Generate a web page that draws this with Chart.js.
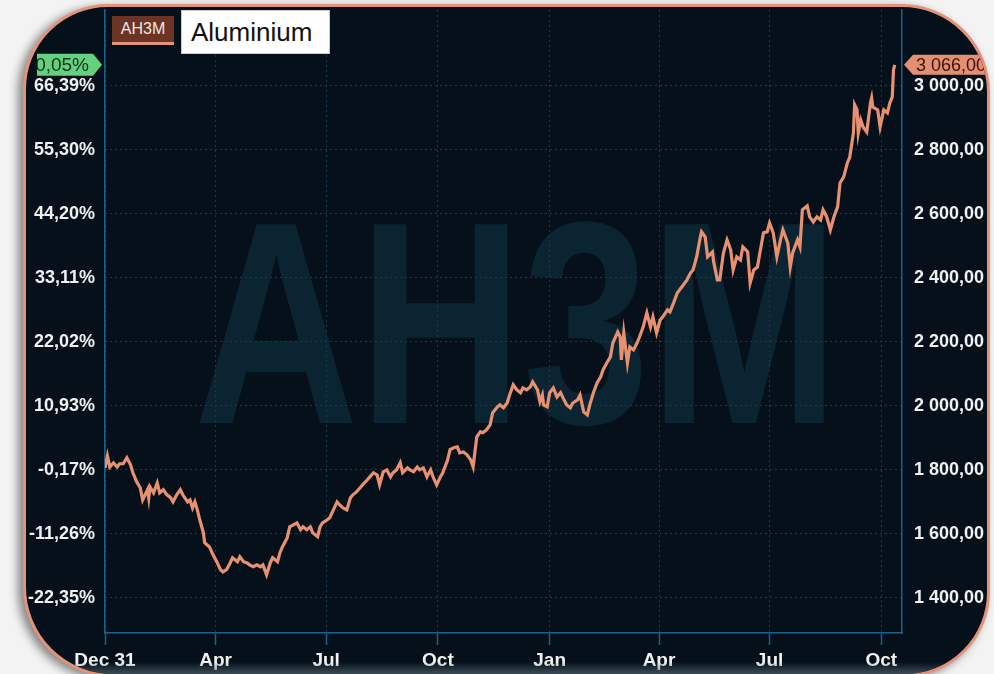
<!DOCTYPE html>
<html>
<head>
<meta charset="utf-8">
<title>Aluminium AH3M</title>
<script src="https://cdn.jsdelivr.net/npm/chart.js"></script>
<style>
  html, body { margin: 0; padding: 0; width: 994px; height: 674px; overflow: hidden; background: #f3f3f3; }
  .frame {
    position: absolute; left: 23px; top: 4px; width: 967px; height: 673px; box-sizing: border-box;
    border: 3px solid #e3937a; border-radius: 85px 88px 85px 90px; overflow: hidden;
    background: #05101a; box-shadow: -5px 3px 10px rgba(0,0,0,0.45);
  }
  .frame canvas { position: absolute; left: -26px; top: -7px; }
  .shine { position: absolute; left: 0; right: 0; bottom: 0; height: 12px;
    background: linear-gradient(to bottom, rgba(40,60,72,0), rgba(80,98,108,0.75)); }
  .code { position: absolute; left: 112px; top: 16px; width: 62px; height: 29px; box-sizing: border-box;
    background: #6b3424; border-bottom: 3px solid #e3937a; color: #f4e6e0; text-align: center;
    font: 16px "Liberation Sans", Arial, sans-serif; line-height: 26px; }
  .name { position: absolute; left: 181px; top: 10px; width: 149px; height: 44px; box-sizing: border-box;
    background: #fff; border: 1px solid #ccc; color: #111; padding-left: 9px;
    font: 26px "Liberation Sans", Arial, sans-serif; line-height: 42px; }
</style>
</head>
<body>
<div class="frame">
  <canvas id="chart" width="994" height="674"></canvas>
  <div class="shine"></div>
</div>
<div class="code">AH3M</div>
<div class="name">Aluminium</div>

<script>
// days since Dec 31 and the closing price
const days = [0,2,4,7,10,12,15,18,21,23,26,29,31,35,36,37,40,43,45,48,51,54,56,59,62,64,68,70,72,74,76,78,81,82,86,89,92,95,97,100,103,105,109,111,114,117,119,122,125,128,130,133,136,138,142,144,146,150,152,158,161,163,166,169,171,175,177,179,183,185,188,191,193,196,199,202,204,207,210,212,216,218,221,224,226,229,232,235,237,240,243,245,249,251,254,257,259,262,265,268,270,273,276,278,282,284,287,290,292,295,298,301,303,306,309,311,314,317,319,323,325,328,331,333,336,339,342,344,347,350,352,356,358,360,361,364,366,369,372,375,377,380,383,385,389,391,394,397,399,402,405,408,410,413,416,418,422,424,425,427,430,432,435,438,440,443,446,449,451,454,457,459,463,465,468,471,473,476,479,482,484,487,490,491,494,496,500,501,504,506,509,512,515,517,520,523,525,529,531,534,537,539,542,545,547,550,553,556,558,562,564,566,570,572,574,578,580,583,586,589,591,594,597,600,603,605,608,611,613,616,617,619,620,622,624,627,630,631,632,636,638,641,644,646,648,649,650];
const prices = [1806,1844,1809,1822,1809,1819,1819,1838,1816,1791,1763,1744,1706,1738,1712,1747,1728,1759,1728,1738,1722,1713,1700,1722,1738,1722,1700,1706,1681,1700,1675,1644,1603,1572,1559,1534,1513,1488,1481,1488,1509,1525,1513,1528,1513,1509,1503,1497,1503,1497,1503,1472,1509,1525,1513,1541,1559,1588,1622,1634,1613,1622,1613,1622,1603,1591,1622,1634,1644,1650,1675,1700,1691,1681,1675,1713,1722,1731,1744,1753,1769,1778,1791,1784,1753,1794,1800,1778,1791,1800,1822,1791,1806,1800,1794,1809,1800,1806,1778,1800,1778,1753,1778,1791,1831,1863,1869,1872,1853,1856,1847,1831,1809,1903,1919,1916,1925,1941,1978,1997,2003,1994,2009,2034,2066,2050,2041,2056,2050,2059,2075,2050,2013,2034,2003,1997,2041,2056,2028,2041,2025,2003,1994,2009,2019,2034,1981,1972,2003,2041,2072,2091,2113,2134,2153,2197,2231,2216,2144,2228,2134,2184,2175,2197,2216,2247,2291,2247,2278,2228,2269,2278,2300,2294,2322,2353,2363,2378,2394,2416,2425,2466,2528,2544,2528,2466,2481,2450,2394,2394,2478,2519,2488,2425,2466,2456,2497,2481,2384,2425,2434,2478,2541,2544,2572,2541,2466,2519,2550,2509,2434,2478,2519,2497,2613,2625,2591,2575,2591,2581,2613,2591,2550,2591,2622,2697,2716,2759,2778,2853,2941,2925,2853,2894,2872,2856,2947,2963,2934,2925,2872,2925,2916,2947,2966,3050,3066];

const xTickDays = [0, 91, 182, 274, 366, 456, 547, 639];
const xTickLabels = ['Dec 31', 'Apr', 'Jul', 'Oct', 'Jan', 'Apr', 'Jul', 'Oct'];
const priceTicks = [1400, 1600, 1800, 2000, 2200, 2400, 2600, 2800, 3000];
const priceTickLabels = ['1 400,00', '1 600,00', '1 800,00', '2 000,00', '2 200,00', '2 400,00', '2 600,00', '2 800,00', '3 000,00'];
const pctTickLabels = ['-22,35%', '-11,26%', '-0,17%', '10,93%', '22,02%', '33,11%', '44,20%', '55,30%', '66,39%'];
const basePrice = 1803;

const FONT = '"Liberation Sans", Arial, sans-serif';
const GRID = '#103d56';
const AXIS = '#17638e';

function fmtPrice(v) {
  const [i, d] = v.toFixed(2).split('.');
  return i.replace(/\B(?=(\d{3})+$)/g, ' ') + ',' + d;
}
function fmtPct(v) {
  return ((v / basePrice - 1) * 100).toFixed(2).replace('.', ',') + '%';
}
// fixed axis sizes so the plot area sits where the original has it
function fixSize(prop, size) {
  return s => {
    s[prop] = size;
    s.paddingTop = 0; s.paddingBottom = 0; s.paddingLeft = 0; s.paddingRight = 0;
  };
}

// big ticker name behind the grid
const watermark = {
  id: 'watermark',
  beforeDraw(c) {
    const ctx = c.ctx;
    ctx.save();
    ctx.font = 'bold 289px "Liberation Sans", Arial, sans-serif';
    const w = ctx.measureText('AH3M').width;
    ctx.translate(194, 423);
    ctx.scale(645 / w, 1);
    ctx.fillStyle = '#0a2432';
    ctx.fillText('AH3M', 0, 0);
    ctx.restore();
  }
};

// last value tags on both axes
const lastTags = {
  id: 'lastTags',
  afterDraw(c) {
    const ctx = c.ctx;
    const a = c.chartArea;
    const last = prices[prices.length - 1];
    const y = c.scales.y.getPixelForValue(last);
    ctx.save();
    ctx.textBaseline = 'middle';

    ctx.font = '18px ' + FONT;
    ctx.fillStyle = '#e48f72';
    ctx.beginPath();
    ctx.moveTo(a.right + 2, y);
    ctx.lineTo(a.right + 11, y - 10);
    ctx.lineTo(1000, y - 10);
    ctx.lineTo(1000, y + 10);
    ctx.lineTo(a.right + 11, y + 10);
    ctx.closePath();
    ctx.fill();
    ctx.fillStyle = '#3b1409';
    ctx.textAlign = 'left';
    ctx.fillText(fmtPrice(last), a.right + 14, y + 1);

    ctx.beginPath();
    ctx.rect(37, 0, 80, 674);
    ctx.clip();
    ctx.font = '19px ' + FONT;
    ctx.fillStyle = '#63d17f';
    ctx.beginPath();
    ctx.moveTo(a.left - 3, y);
    ctx.lineTo(a.left - 12, y - 11);
    ctx.lineTo(20, y - 11);
    ctx.lineTo(20, y + 11);
    ctx.lineTo(a.left - 12, y + 11);
    ctx.closePath();
    ctx.fill();
    ctx.fillStyle = '#12301a';
    ctx.textAlign = 'right';
    ctx.fillText(fmtPct(last), a.left - 16, y + 1);
    ctx.restore();
  }
};

new Chart(document.getElementById('chart'), {
  type: 'line',
  data: {
    datasets: [{
      data: days.map((d, i) => ({ x: d, y: prices[i] })),
      borderColor: '#e8906f',
      borderWidth: 3.2,
      pointRadius: 0,
      tension: 0,
      yAxisID: 'y'
    }]
  },
  options: {
    responsive: false,
    animation: false,
    layout: { padding: { top: 10, left: 0, right: 0, bottom: 0 } },
    plugins: { legend: { display: false }, tooltip: { enabled: false } },
    scales: {
      x: {
        type: 'linear', position: 'bottom', min: 0, max: 656,
        afterBuildTicks: s => { s.ticks = xTickDays.map(v => ({ value: v })); },
        afterFit: fixSize('height', 41),
        ticks: {
          color: '#f2f2f2', padding: 4, maxRotation: 0, autoSkip: false,
          font: { family: FONT, size: 19, weight: 'bold' },
          callback: (v, i) => xTickLabels[i]
        },
        grid: { color: GRID, tickLength: 12, tickColor: AXIS, tickWidth: 1.5 },
        border: { display: true, color: AXIS, width: 1.5, dash: [2, 3] }
      },
      y: {
        position: 'right', min: 1290, max: 3237.5,
        afterBuildTicks: s => { s.ticks = priceTicks.map(v => ({ value: v })); },
        afterFit: fixSize('width', 92),
        ticks: {
          color: '#f0f0f0', padding: 12,
          font: { family: FONT, size: 18, weight: 'bold' },
          callback: (v, i) => priceTickLabels[i]
        },
        grid: { color: GRID, drawTicks: false },
        border: { display: true, color: AXIS, width: 1.5, dash: [2, 3] }
      },
      yL: {
        position: 'left', min: 1290, max: 3237.5,
        afterBuildTicks: s => { s.ticks = priceTicks.map(v => ({ value: v })); },
        afterFit: fixSize('width', 105),
        ticks: {
          color: '#f0f0f0', padding: 10,
          font: { family: FONT, size: 18, weight: 'bold' },
          callback: (v, i) => pctTickLabels[i]
        },
        grid: { drawOnChartArea: false, drawTicks: false },
        border: { display: true, color: AXIS, width: 1.5 }
      }
    }
  },
  plugins: [watermark, lastTags]
});
</script>
</body>
</html>
